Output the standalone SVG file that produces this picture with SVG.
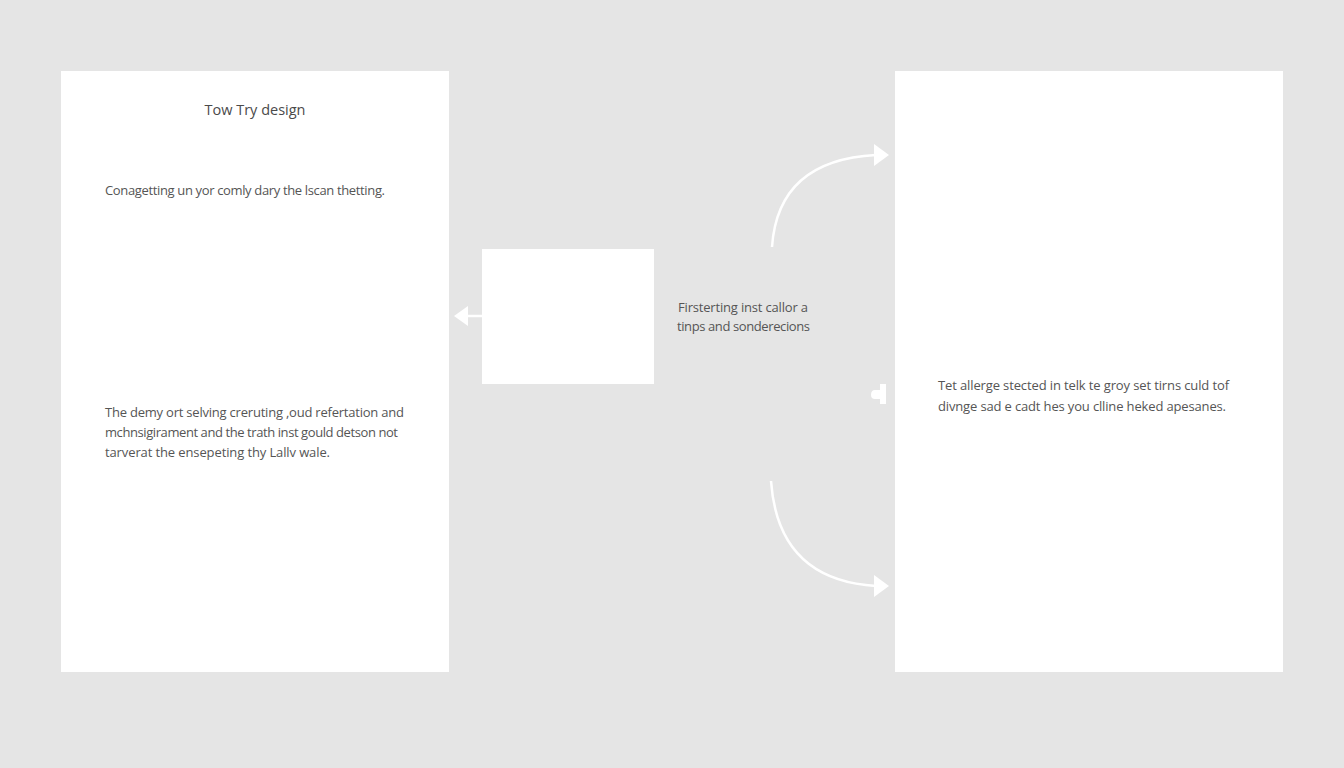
<svg xmlns="http://www.w3.org/2000/svg" width="1344" height="768" viewBox="0 0 1344 768">
<defs>
<style>
.panel{fill:#ffffff}
.t{font-family:"Open Sans","Liberation Sans",sans-serif;fill:#555555;font-size:13px}
.title{font-size:14.5px;fill:#4a4a4a;text-anchor:middle}
.conn{fill:none;stroke:#ffffff;stroke-width:2.5}
</style>
<marker id="ah" viewBox="0 0 10 10" refX="8" refY="5" markerWidth="6" markerHeight="6" markerUnits="userSpaceOnUse" orient="auto">
<path d="M0,0 L10,5 L0,10 Z" fill="#ffffff"/>
</marker>
<marker id="ahb" viewBox="0 0 10 10" refX="8" refY="5" markerWidth="7" markerHeight="7" orient="auto">
<path d="M0,0 L10,5 L0,10 Z" fill="#ffffff"/>
</marker>
</defs>
<rect width="1344" height="768" fill="#e5e5e5"/>
<g id="left-panel">
<rect class="panel" x="61" y="71" width="388" height="601"/>
<text class="t title" x="255" y="115">Tow Try design</text>
<text class="t" x="105" y="195" textLength="280">Conagetting un yor comly dary the lscan thetting.</text>
<text class="t" x="105" y="417" textLength="299">The demy ort selving creruting ,oud refertation and</text>
<text class="t" x="105" y="437" textLength="293">mchnsigirament and the trath inst gould detson not</text>
<text class="t" x="105" y="457" textLength="225">tarverat the ensepeting thy Lallv wale.</text>
</g>
<g id="center-box">
<rect class="panel" x="482" y="249" width="172" height="135"/>
</g>
<g id="center-label">
<text class="t" x="678" y="312" textLength="130">Firsterting inst callor a</text>
<text class="t" x="677" y="331" textLength="133">tinps and sonderecions</text>
</g>
<g id="right-panel">
<rect class="panel" x="895" y="71" width="388" height="601"/>
<text class="t" x="938" y="390" textLength="291">Tet allerge stected in telk te groy set tirns culd tof</text>
<text class="t" x="938" y="411" textLength="288">divnge sad e cadt hes you clline heked apesanes.</text>
</g>
<g id="connectors">
<line class="conn" x1="482" y1="316" x2="466" y2="316"/>
<path d="M468,306 L454,316 L468,326 Z" fill="#ffffff"/>
<path class="conn" d="M772,247 Q778,160 876,155"/>
<path d="M874,144 L889,155 L874,166 Z" fill="#ffffff"/>
<path class="conn" d="M771,481 Q778,580 876,586"/>
<path d="M874,575 L889,586 L874,597 Z" fill="#ffffff"/>
<path d="M880,384 L886,384 L886,404 L880,404 L880,399 L875,399 Q871,399 871,395 Q871,390 875,390 L880,390 Z" fill="#ffffff"/>
</g>
</svg>
